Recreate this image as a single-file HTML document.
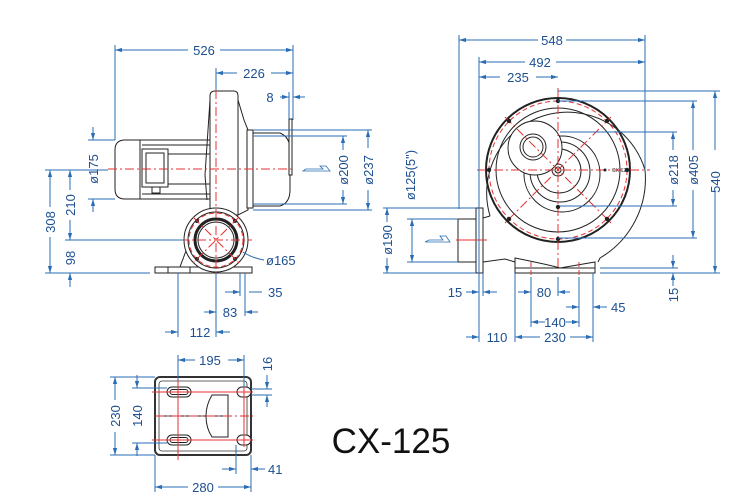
<!DOCTYPE html>
<html><head><meta charset="utf-8"><style>
html,body{margin:0;padding:0;background:#fff;}
svg{display:block;}
.d{stroke:#2a6db5;stroke-width:1;fill:none;}
.t{font-family:"Liberation Sans",sans-serif;font-size:13px;fill:#1d4f91;}
.k{stroke:#222;stroke-width:1;fill:none;}
.kf{stroke:#222;stroke-width:1;fill:#fff;}
.r{stroke:#e53030;stroke-width:1;fill:none;stroke-dasharray:9 3 2 3;}
.rd{stroke:#e53030;stroke-width:1;fill:none;stroke-dasharray:5 3;}
</style></head><body>
<svg width="750" height="503" viewBox="0 0 750 503" xmlns="http://www.w3.org/2000/svg">
<defs>
<marker id="a" viewBox="0 0 10 10" refX="10" refY="5" markerWidth="7" markerHeight="7" orient="auto-start-reverse"><path d="M0,2 L10,5 L0,8 z" fill="#2a6db5"/></marker>
</defs>

<!-- ================= SIDE VIEW ================= -->
<!-- motor -->
<path class="kf" d="M125,140 L210,140 L210,199 L125,199 Q115,199 115,189 L115,150 Q115,140 125,140 z"/>
<line class="k" x1="140" y1="140" x2="140" y2="199"/>
<rect class="k" x="142" y="149" width="26" height="38"/>
<rect class="k" x="146" y="153" width="18" height="30"/>
<line class="k" x1="142" y1="145" x2="210" y2="145"/>
<line class="k" x1="142" y1="194" x2="210" y2="194"/>
<line class="k" x1="168" y1="154" x2="210" y2="154"/>
<line class="k" x1="168" y1="184" x2="210" y2="184"/>
<rect class="k" x="152" y="187" width="8" height="6"/>
<!-- housing -->
<path class="kf" d="M210,96 Q210,91 215,91 L234,91 Q238,91 238,96 L238,215 L210,215 z"/>
<path class="k" d="M207,200 L205,175 L210,100"/>
<path class="kf" d="M238,100 L244,120 L248,130 L248,210 L238,215 z"/>
<rect class="kf" x="247" y="130" width="6" height="78"/>
<path class="kf" d="M253,133 L280,133 Q290,137 290,150 L290,190 Q290,203 280,206 L253,206 z"/>
<rect class="kf" x="289" y="119" width="3" height="56"/>
<!-- inlet circle -->
<path class="kf" d="M155,267 L252,267 L252,273 L155,273 z"/>
<line class="k" x1="168" y1="267" x2="168" y2="273"/><line class="k" x1="190" y1="267" x2="190" y2="273"/>
<path class="k" d="M180,267 L190,240"/>
<circle class="kf" cx="216" cy="240" r="32"/>
<circle class="k" cx="216" cy="240" r="28"/>
<circle cx="216" cy="240" r="21" fill="none" stroke="#222" stroke-width="3"/>
<circle class="k" cx="216" cy="240" r="18"/>
<circle class="rd" cx="216" cy="240" r="27"/>
<circle cx="197" cy="221" r="2" fill="#222"/><circle cx="235" cy="221" r="2" fill="#222"/>
<circle cx="197" cy="259" r="2" fill="#222"/><circle cx="235" cy="259" r="2" fill="#222"/>
<line class="r" x1="193" y1="217" x2="239" y2="263"/><line class="r" x1="239" y1="217" x2="193" y2="263"/>
<line class="r" x1="180" y1="240" x2="252" y2="240"/>
<!-- centerlines -->
<line class="r" x1="108" y1="169" x2="293" y2="169"/>
<line class="r" x1="216" y1="90" x2="216" y2="280"/>
<!-- airflow arrow -->
<path d="M303,171 L330,171 L326,166 L320,166 L323,169 L306,169 z" fill="none" stroke="#2a6db5" stroke-width="0.8"/>
<!-- dims side -->
<line class="d" x1="115" y1="45" x2="115" y2="140"/>
<line class="d" x1="293" y1="45" x2="293" y2="120"/>
<line class="d" x1="216" y1="68" x2="216" y2="90"/>
<line class="d" x1="289" y1="92" x2="289" y2="119"/>
<line class="d" x1="115" y1="50" x2="188" y2="50" marker-start="url(#a)"/>
<line class="d" x1="220" y1="50" x2="293" y2="50" marker-end="url(#a)"/>
<text class="t" x="204" y="55" text-anchor="middle">526</text>
<line class="d" x1="216" y1="73" x2="237" y2="73" marker-start="url(#a)"/>
<line class="d" x1="271" y1="73" x2="293" y2="73" marker-end="url(#a)"/>
<text class="t" x="254" y="78" text-anchor="middle">226</text>
<line class="d" x1="280" y1="97" x2="289" y2="97" marker-end="url(#a)"/>
<line class="d" x1="305" y1="97" x2="293" y2="97" marker-end="url(#a)"/>
<text class="t" x="270" y="102" text-anchor="middle">8</text>
<!-- ø175 -->
<line class="d" x1="88" y1="140" x2="115" y2="140"/>
<line class="d" x1="88" y1="199" x2="115" y2="199"/>
<line class="d" x1="93" y1="127" x2="93" y2="140" marker-end="url(#a)"/>
<line class="d" x1="93" y1="212" x2="93" y2="199" marker-end="url(#a)"/>
<text class="t" transform="translate(98,169) rotate(-90)" text-anchor="middle">ø175</text>
<!-- 308/210/98 -->
<line class="d" x1="45" y1="170" x2="108" y2="170"/>
<line class="d" x1="65" y1="240" x2="183" y2="240"/>
<line class="d" x1="45" y1="273" x2="150" y2="273"/>
<line class="d" x1="50" y1="170" x2="50" y2="207" marker-start="url(#a)"/>
<line class="d" x1="50" y1="237" x2="50" y2="273" marker-end="url(#a)"/>
<text class="t" transform="translate(55,222) rotate(-90)" text-anchor="middle">308</text>
<line class="d" x1="70" y1="170" x2="70" y2="190" marker-start="url(#a)"/>
<line class="d" x1="70" y1="220" x2="70" y2="240" marker-end="url(#a)"/>
<text class="t" transform="translate(75,205) rotate(-90)" text-anchor="middle">210</text>
<line class="d" x1="70" y1="273" x2="70" y2="287" marker-start="url(#a)"/>
<text class="t" transform="translate(75,258) rotate(-90)" text-anchor="middle">98</text>
<!-- ø200 ø237 -->
<line class="d" x1="253" y1="136" x2="347" y2="136"/>
<line class="d" x1="253" y1="204" x2="347" y2="204"/>
<line class="d" x1="253" y1="130" x2="372" y2="130"/>
<line class="d" x1="253" y1="210" x2="372" y2="210"/>
<line class="d" x1="343" y1="136" x2="343" y2="150" marker-start="url(#a)"/>
<line class="d" x1="343" y1="190" x2="343" y2="204" marker-end="url(#a)"/>
<text class="t" transform="translate(348,170) rotate(-90)" text-anchor="middle">ø200</text>
<line class="d" x1="368" y1="130" x2="368" y2="148" marker-start="url(#a)"/>
<line class="d" x1="368" y1="190" x2="368" y2="210" marker-end="url(#a)"/>
<text class="t" transform="translate(373,170) rotate(-90)" text-anchor="middle">ø237</text>
<!-- ø165 leader -->
<path class="d" d="M243,252 Q252,258 264,260"/>
<text class="t" x="266" y="265">ø165</text>
<!-- bottom dims side -->
<line class="d" x1="178" y1="273" x2="178" y2="337"/>
<line class="d" x1="216" y1="273" x2="216" y2="337"/>
<line class="d" x1="240" y1="273" x2="240" y2="296"/>
<line class="d" x1="245" y1="273" x2="245" y2="316"/>
<line class="d" x1="225" y1="292" x2="240" y2="292" marker-end="url(#a)"/>
<line class="d" x1="262" y1="292" x2="249" y2="292"/>
<text class="t" x="268" y="297">35</text>
<line class="d" x1="204" y1="312" x2="216" y2="312" marker-end="url(#a)"/>
<line class="d" x1="258" y1="312" x2="245" y2="312" marker-end="url(#a)"/>
<text class="t" x="230" y="317" text-anchor="middle">83</text>
<line class="d" x1="165" y1="332" x2="178" y2="332" marker-end="url(#a)"/>
<line class="d" x1="230" y1="332" x2="216" y2="332" marker-end="url(#a)"/>
<text class="t" x="200" y="337" text-anchor="middle">112</text>

<!-- ================= FRONT VIEW ================= -->
<path class="kf" d="M490,216 A79 79 0 1 1 645,170 A92 92 0 0 1 600,258 L598,262"/>
<circle cx="558" cy="170" r="72" fill="none" stroke="#222" stroke-width="2"/>
<circle class="rd" cx="558" cy="170" r="69"/>
<circle class="k" cx="558" cy="170" r="62"/>
<circle class="k" cx="562" cy="174" r="38"/>
<circle class="k" cx="560" cy="172" r="30"/>
<circle class="k" cx="559" cy="171" r="22"/>
<circle class="k" cx="558" cy="170" r="6"/>
<circle class="k" cx="558" cy="170" r="3"/>
<circle class="kf" cx="535" cy="148" r="27"/>
<circle class="k" cx="533" cy="147" r="13"/>
<circle class="k" cx="533" cy="147" r="10"/>
<line class="r" x1="477" y1="170" x2="650" y2="170"/>
<line class="r" x1="558" y1="88" x2="558" y2="275"/>
<line class="r" x1="505" y1="117" x2="611" y2="223"/>
<line class="r" x1="611" y1="117" x2="505" y2="223"/>
<g fill="#222">
<circle cx="558" cy="101" r="2.2"/><circle cx="558" cy="239" r="2.2"/>
<circle cx="489" cy="170" r="2.2"/><circle cx="627" cy="170" r="2.2"/>
<circle cx="509" cy="121" r="2.2"/><circle cx="607" cy="121" r="2.2"/>
<circle cx="509" cy="219" r="2.2"/><circle cx="607" cy="219" r="2.2"/>
<circle cx="558" cy="207" r="2.2"/><circle cx="605" cy="170" r="1.5"/>
</g>
<text x="612" y="172" font-family="Liberation Sans,sans-serif" font-size="5" fill="#222">CX-125</text>
<!-- inlet flange -->
<rect class="kf" x="458" y="219" width="18" height="43"/>
<rect class="kf" x="476" y="208" width="7" height="65"/>
<line class="k" x1="479" y1="208" x2="479" y2="273"/>
<path class="k" d="M483,218 L490,216"/>
<path class="k" d="M483,262 L505,259 L515,262"/>
<line class="r" x1="456" y1="240" x2="487" y2="240" style="stroke-dasharray:none"/>
<path d="M425,242 L450,242 L446,236 L440,236 L443,240 L429,240 z" fill="none" stroke="#2a6db5" stroke-width="0.8"/>
<!-- base -->
<path class="kf" d="M515,258 Q550,265 560,268 L595,262 L595,273 L515,273 z"/>
<line class="k" x1="515" y1="268" x2="595" y2="268"/>
<line class="rd" x1="531" y1="262" x2="531" y2="277"/><line class="rd" x1="579" y1="262" x2="579" y2="277"/>
<!-- front dims -->
<line class="d" x1="459" y1="35" x2="459" y2="209"/>
<line class="d" x1="645" y1="35" x2="645" y2="170"/>
<line class="d" x1="479" y1="57" x2="479" y2="342"/>
<line class="d" x1="459" y1="40" x2="538" y2="40" marker-start="url(#a)"/>
<line class="d" x1="566" y1="40" x2="645" y2="40" marker-end="url(#a)"/>
<text class="t" x="552" y="45" text-anchor="middle">548</text>
<line class="d" x1="479" y1="62" x2="525" y2="62" marker-start="url(#a)"/>
<line class="d" x1="556" y1="62" x2="645" y2="62" marker-end="url(#a)"/>
<text class="t" x="540" y="67" text-anchor="middle">492</text>
<line class="d" x1="479" y1="77" x2="500" y2="77" marker-start="url(#a)"/>
<line class="d" x1="536" y1="77" x2="558" y2="77" marker-end="url(#a)"/>
<text class="t" x="518" y="82" text-anchor="middle">235</text>
<!-- 540 / 405 / 218 -->
<line class="d" x1="558" y1="91" x2="720" y2="91"/>
<line class="d" x1="600" y1="273" x2="720" y2="273"/>
<line class="d" x1="558" y1="101" x2="697" y2="101"/>
<line class="d" x1="558" y1="238" x2="697" y2="238"/>
<line class="d" x1="560" y1="132" x2="677" y2="132"/>
<line class="d" x1="560" y1="206" x2="677" y2="206"/>
<line class="d" x1="715" y1="91" x2="715" y2="150" marker-start="url(#a)"/>
<line class="d" x1="715" y1="190" x2="715" y2="273" marker-end="url(#a)"/>
<text class="t" transform="translate(720,182) rotate(-90)" text-anchor="middle">540</text>
<line class="d" x1="693" y1="101" x2="693" y2="150" marker-start="url(#a)"/>
<line class="d" x1="693" y1="190" x2="693" y2="238" marker-end="url(#a)"/>
<text class="t" transform="translate(698,170) rotate(-90)" text-anchor="middle">ø405</text>
<line class="d" x1="673" y1="132" x2="673" y2="150" marker-start="url(#a)"/>
<line class="d" x1="673" y1="190" x2="673" y2="206" marker-end="url(#a)"/>
<text class="t" transform="translate(678,170) rotate(-90)" text-anchor="middle">ø218</text>
<line class="d" x1="600" y1="268" x2="678" y2="268"/>
<line class="d" x1="673" y1="255" x2="673" y2="268" marker-end="url(#a)"/>
<line class="d" x1="673" y1="286" x2="673" y2="273" marker-end="url(#a)"/>
<text class="t" transform="translate(678,295) rotate(-90)" text-anchor="middle">15</text>
<!-- ø190 ø125 -->
<line class="d" x1="383" y1="208" x2="476" y2="208"/>
<line class="d" x1="383" y1="273" x2="476" y2="273"/>
<line class="d" x1="407" y1="219" x2="458" y2="219"/>
<line class="d" x1="407" y1="262" x2="458" y2="262"/>
<line class="d" x1="387" y1="208" x2="387" y2="222" marker-start="url(#a)"/>
<line class="d" x1="387" y1="258" x2="387" y2="273" marker-end="url(#a)"/>
<text class="t" transform="translate(392,240) rotate(-90)" text-anchor="middle">ø190</text>
<line class="d" x1="412" y1="219" x2="412" y2="262" marker-start="url(#a)" marker-end="url(#a)"/>
<text class="t" transform="translate(415,175) rotate(-90)" text-anchor="middle">ø125(5")</text>
<!-- bottom front dims -->
<line class="d" x1="483" y1="273" x2="483" y2="296"/>
<line class="d" x1="515" y1="273" x2="515" y2="342"/>
<line class="d" x1="531" y1="277" x2="531" y2="327"/>
<line class="d" x1="558" y1="277" x2="558" y2="296"/>
<line class="d" x1="579" y1="277" x2="579" y2="327"/>
<line class="d" x1="593" y1="273" x2="593" y2="342"/>
<line class="d" x1="466" y1="292" x2="479" y2="292" marker-end="url(#a)"/>
<line class="d" x1="497" y1="292" x2="483" y2="292" marker-end="url(#a)"/>
<text class="t" x="455" y="297" text-anchor="middle">15</text>
<line class="d" x1="518" y1="292" x2="531" y2="292" marker-end="url(#a)"/>
<line class="d" x1="570" y1="292" x2="558" y2="292" marker-end="url(#a)"/>
<text class="t" x="544" y="297" text-anchor="middle">80</text>
<line class="d" x1="566" y1="307" x2="579" y2="307" marker-end="url(#a)"/>
<line class="d" x1="607" y1="307" x2="593" y2="307" marker-end="url(#a)"/>
<text class="t" x="611" y="312">45</text>
<line class="d" x1="531" y1="322" x2="545" y2="322" marker-start="url(#a)"/>
<line class="d" x1="566" y1="322" x2="579" y2="322" marker-end="url(#a)"/>
<text class="t" x="555" y="327" text-anchor="middle">140</text>
<line class="d" x1="466" y1="337" x2="479" y2="337" marker-end="url(#a)"/>
<line class="d" x1="515" y1="337" x2="540" y2="337" marker-start="url(#a)"/>
<line class="d" x1="570" y1="337" x2="593" y2="337" marker-end="url(#a)"/>
<text class="t" x="497" y="342" text-anchor="middle">110</text>
<text class="t" x="555" y="342" text-anchor="middle">230</text>

<!-- ================= BASE VIEW ================= -->
<rect x="155" y="377" width="96" height="78" rx="5" fill="#fff" stroke="#333" stroke-width="2"/>
<rect x="159" y="381" width="88" height="70" rx="3" fill="none" stroke="#333" stroke-width="0.8"/>
<path class="k" d="M228,395 L212,395 Q206,405 206,416 Q206,428 212,437 L228,437 z" style="fill:#fff"/>
<line class="k" x1="155" y1="416" x2="228" y2="416"/>
<rect class="kf" x="167" y="387" width="24" height="10" rx="5"/>
<rect class="kf" x="170" y="389.5" width="18" height="5" rx="2.5"/>
<rect class="kf" x="167" y="435" width="24" height="10" rx="5"/>
<rect class="kf" x="170" y="437.5" width="18" height="5" rx="2.5"/>
<rect class="kf" x="237" y="387" width="14" height="10" rx="5"/>
<rect class="kf" x="237" y="435" width="14" height="10" rx="5"/>
<line class="r" x1="152" y1="392" x2="253" y2="392" style="stroke-dasharray:none"/>
<line class="r" x1="152" y1="440" x2="253" y2="440" style="stroke-dasharray:none"/>
<line class="r" x1="155" y1="416" x2="253" y2="416"/>
<line class="r" x1="178" y1="372" x2="178" y2="460" style="stroke-dasharray:none"/>
<line class="r" x1="244" y1="385" x2="244" y2="447" style="stroke-dasharray:none"/>
<!-- base dims -->
<line class="d" x1="178" y1="355" x2="178" y2="380"/>
<line class="d" x1="244" y1="355" x2="244" y2="387"/>
<line class="d" x1="178" y1="360" x2="195" y2="360" marker-start="url(#a)"/>
<line class="d" x1="228" y1="360" x2="244" y2="360" marker-end="url(#a)"/>
<text class="t" x="210" y="365" text-anchor="middle">195</text>
<line class="d" x1="251" y1="389" x2="272" y2="389"/>
<line class="d" x1="251" y1="395" x2="272" y2="395"/>
<line class="d" x1="267" y1="375" x2="267" y2="389" marker-end="url(#a)"/>
<line class="d" x1="267" y1="407" x2="267" y2="395" marker-end="url(#a)"/>
<text class="t" transform="translate(272,364) rotate(-90)" text-anchor="middle">16</text>
<line class="d" x1="110" y1="377" x2="155" y2="377"/>
<line class="d" x1="110" y1="455" x2="155" y2="455"/>
<line class="d" x1="132" y1="388" x2="167" y2="388"/>
<line class="d" x1="132" y1="443" x2="167" y2="443"/>
<line class="d" x1="115" y1="377" x2="115" y2="400" marker-start="url(#a)"/>
<line class="d" x1="115" y1="432" x2="115" y2="455" marker-end="url(#a)"/>
<text class="t" transform="translate(120,416) rotate(-90)" text-anchor="middle">230</text>
<line class="d" x1="137" y1="375" x2="137" y2="388" marker-end="url(#a)"/>
<line class="d" x1="137" y1="456" x2="137" y2="443" marker-end="url(#a)"/>
<text class="t" transform="translate(142,416) rotate(-90)" text-anchor="middle">140</text>
<line class="d" x1="236" y1="445" x2="236" y2="474"/>
<line class="d" x1="251" y1="455" x2="251" y2="492"/>
<line class="d" x1="155" y1="455" x2="155" y2="492"/>
<line class="d" x1="222" y1="469" x2="236" y2="469" marker-end="url(#a)"/>
<line class="d" x1="265" y1="469" x2="251" y2="469" marker-end="url(#a)"/>
<text class="t" x="268" y="474">41</text>
<line class="d" x1="155" y1="487" x2="188" y2="487" marker-start="url(#a)"/>
<line class="d" x1="218" y1="487" x2="251" y2="487" marker-end="url(#a)"/>
<text class="t" x="203" y="492" text-anchor="middle">280</text>

<text x="391" y="453" text-anchor="middle" font-family="Liberation Sans,sans-serif" font-size="35" fill="#111">CX-125</text>
</svg>
</body></html>
